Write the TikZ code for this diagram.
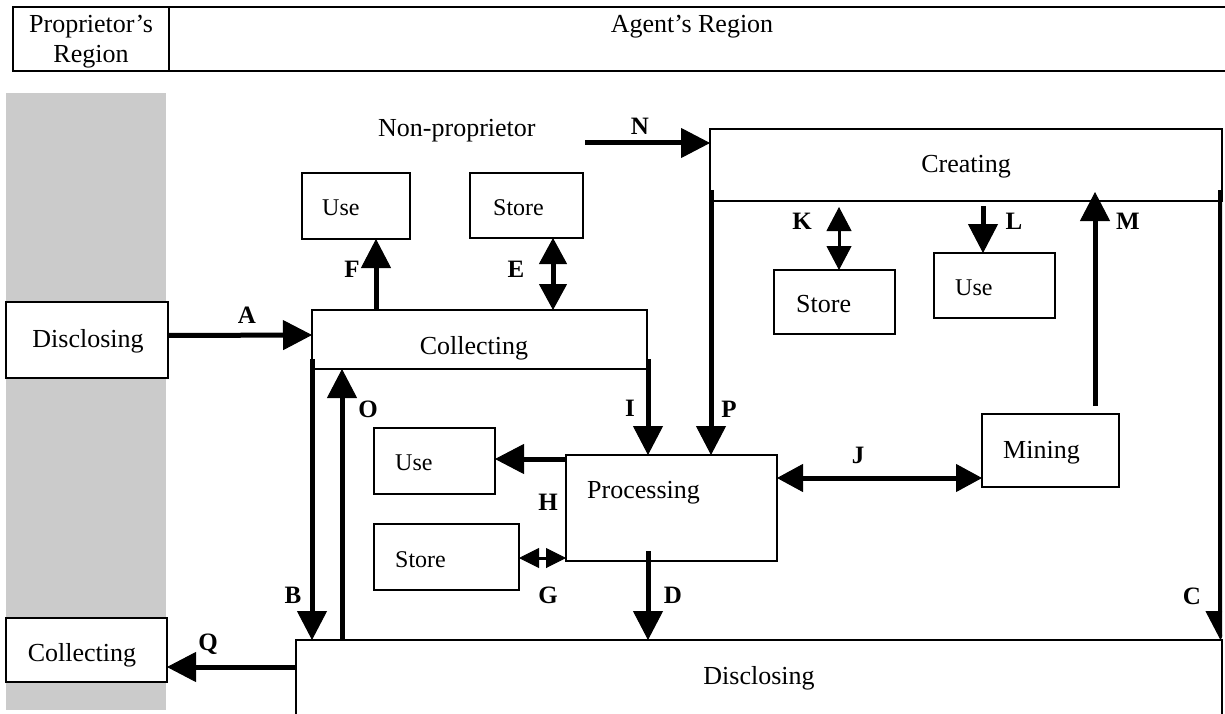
\documentclass[tikz,border=0pt]{standalone}
\usepackage{fontspec}
\setmainfont{Liberation Serif}
\usetikzlibrary{arrows.meta,calc}
\definecolor{band}{HTML}{CBCBCB}
\begin{document}
\begin{tikzpicture}[x=1pt,y=-1pt,
  box/.style={draw,line width=1.3pt,fill=white,inner sep=0pt,outer sep=0pt},
  cell/.style={draw,line width=2pt,inner sep=0pt,outer sep=0pt},
  txt/.style={font=\fontsize{26}{30}\selectfont,inner sep=0pt},
  sml/.style={font=\fontsize{24}{28}\selectfont,inner sep=0pt},
  lab/.style={font=\fontsize{25}{28}\selectfont\bfseries,inner sep=0pt,anchor=base},
  arr/.style={line width=5pt,-{Triangle[length=29pt,width=30pt,line width=1pt]}},
  dbl/.style={line width=5pt,{Triangle[length=26pt,width=28pt,line width=1pt]}-{Triangle[length=26pt,width=28pt,line width=1pt]}},
  dblk/.style={line width=3pt,{Triangle[length=24pt,width=25pt,line width=1pt]}-{Triangle[length=24pt,width=25pt,line width=1pt]}},
  dblg/.style={line width=3pt,{Triangle[length=20pt,width=20pt,line width=1pt]}-{Triangle[length=20pt,width=20pt,line width=1pt]}}]
\useasboundingbox (0,0) rectangle (1225,714);

% header table
\node[cell,minimum width=156pt,minimum height=63.5pt] (propcell) at (91,39.25) {};
\node[cell,minimum width=1071pt,minimum height=63.5pt] (agentcell) at (704.5,39.25) {};
\node[txt,anchor=base] (propA) at (91,33) {Proprietor’s};
\node[txt,anchor=base] (propB) at (91,63) {Region};
\node[txt,anchor=base] (agentT) at (692,33) {Agent’s Region};

% proprietor's band
\fill[band] (6,93) rectangle (166,710);

% boxes
\node[box,minimum width=162pt,minimum height=76pt] (discL) at (87,340) {};
\node[box,minimum width=161pt,minimum height=64pt] (collL) at (86.5,650) {};
\node[box,minimum width=108pt,minimum height=66pt] (useA) at (356,206) {};
\node[box,minimum width=113pt,minimum height=65pt] (storeA) at (526.5,205.5) {};
\node[box,minimum width=335pt,minimum height=59pt] (coll) at (479.5,339.5) {};
\node[box,minimum width=121pt,minimum height=66pt] (useB) at (434.5,461) {};
\node[box,minimum width=145pt,minimum height=66pt] (storeB) at (446.5,557) {};
\node[box,minimum width=211pt,minimum height=106pt] (proc) at (671.5,508) {};
\node[box,minimum width=512pt,minimum height=72pt] (creat) at (966,165) {};
\node[box,minimum width=121pt,minimum height=64pt] (storeC) at (834.5,302) {};
\node[box,minimum width=121pt,minimum height=65pt] (useC) at (994.5,285.5) {};
\node[box,minimum width=137pt,minimum height=73pt] (mining) at (1050.5,450.5) {};
\node[box,minimum width=926pt,minimum height=100pt] (disc) at (759,690) {};

% box texts
\node[txt,anchor=base west] (nonp) at (378,137) {Non-proprietor};
\node[sml,anchor=base west] (useAt) at (322,215) {Use};
\node[sml,anchor=base west] (storeAt) at (493,215) {Store};
\node[txt,anchor=base] (discLt) at (88,347) {Disclosing};
\node[txt,anchor=base] (collt) at (474,354) {Collecting};
\node[sml,anchor=base west] (useBt) at (395,470) {Use};
\node[sml,anchor=base west] (storeBt) at (395,567) {Store};
\node[txt,anchor=base west] (proct) at (587,498) {Processing};
\node[txt,anchor=base] (creatt) at (966,173) {Creating};
\node[txt,anchor=base west] (storeCt) at (796,312) {Store};
\node[sml,anchor=base west] (useCt) at (955,295) {Use};
\node[txt,anchor=base west] (miningt) at (1003,458) {Mining};
\node[txt,anchor=base] (collLt) at (82,661) {Collecting};
\node[txt,anchor=base] (disct) at (759,684) {Disclosing};

% flows
\draw[arr] ([yshift=4.5pt]discL.east) -- ([yshift=4.5pt]coll.west);
\draw[arr] ($(coll.north west)+(64,0)$) -- ($(useA.south west)+(74,0)$);
\draw[dbl] ($(coll.north west)+(241,0)$) -- ($(storeA.south west)+(83,0)$);
\draw[arr] ($(coll.south east)+(1,-10)$) -- ($(proc.north west)+(82,0)$);
\draw[arr] ($(coll.south west)+(0,-10)$) -- (coll.south west |- disc.north);
\draw[arr] ($(disc.north west)+(46,0)$) -- ($(coll.south west)+(30,0)$);
\draw[arr] ($(proc.north west)+(0,4)$) -- ($(useB.east)+(0,-2)$);
\draw[dblg] ($(storeB.east)+(0,1)$) -- ($(proc.south west)+(0,-3)$);
\draw[arr] ($(proc.south west)+(82,-10)$) -- ($(disc.north west)+(352,0)$);
\draw[dbl] ($(proc.north east)+(0,23)$) -- ($(mining.south west)+(0,-9)$);
\draw[arr] ($(mining.north west)+(113,-8)$) -- ($(creat.south west)+(385,-9)$);
\draw[arr] ($(creat.south west)+(1,-11)$) -- ($(proc.north west)+(145,0)$);
\begin{scope}
  \clip (0,0) rectangle (1222,714);
  \draw[arr] ($(creat.south east)+(-1.5,-11)$) -- ($(disc.north east)+(-1.5,0)$);
\end{scope}
\coordinate (nsrc) at ($(creat.north west)+(-125,14)$);
\draw[arr] (nsrc) -- ($(creat.north west)+(0,14)$);
\draw[dblk] ($(creat.south west)+(129,6)$) -- ($(storeC.north west)+(65,0)$);
\draw[arr] ($(creat.south west)+(273,5)$) -- ($(useC.north west)+(49,0)$);
\draw[arr] ($(disc.north west)+(0,27)$) -- ($(collL.east)+(0,17)$);

% flow labels
\node[lab] (lA) at (247,323) {A};
\node[lab] (lB) at (293,603) {B};
\node[lab] (lC) at (1192,604) {C};
\node[lab] (lD) at (673,603) {D};
\node[lab] (lE) at (516,277) {E};
\node[lab] (lF) at (352,277) {F};
\node[lab] (lG) at (548,603) {G};
\node[lab] (lH) at (548,510) {H};
\node[lab] (lI) at (630,416) {I};
\node[lab] (lJ) at (858,463) {J};
\node[lab] (lK) at (802,229) {K};
\node[lab] (lL) at (1014,229) {L};
\node[lab] (lM) at (1128,229) {M};
\node[lab] (lN) at (640,135) {N};
\node[lab] (lO) at (368,417) {O};
\node[lab] (lP) at (729,417) {P};
\node[lab] (lQ) at (208,650) {Q};
\end{tikzpicture}
\end{document}
